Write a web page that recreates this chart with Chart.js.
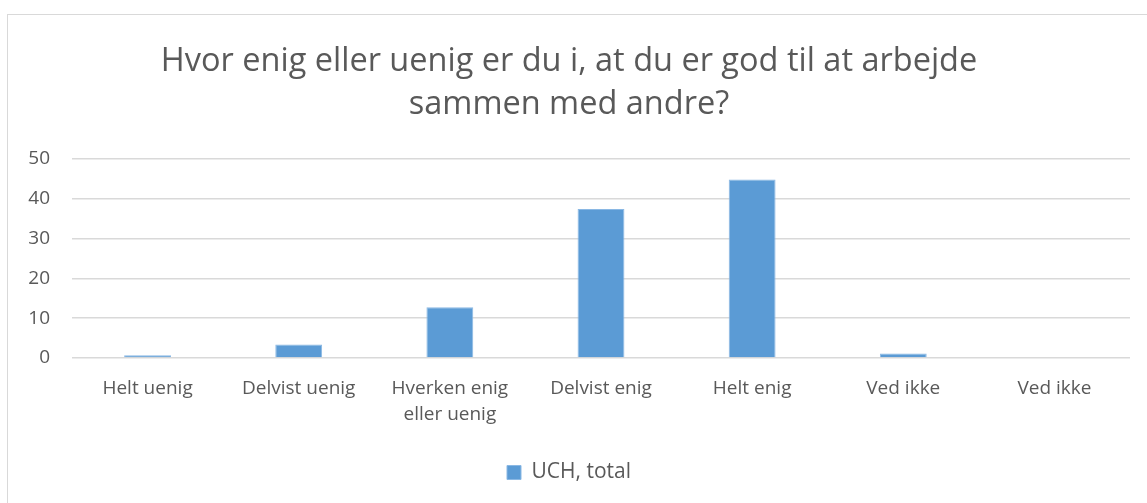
<!DOCTYPE html>
<html>
<head>
<meta charset="utf-8">
<script src="https://cdn.jsdelivr.net/npm/chart.js@4"></script>
<style>
  html, body { margin: 0; padding: 0; background: #fff; overflow: hidden; }
  #frame {
    position: absolute; left: 7px; top: 14px;
    width: 1160px; height: 510px;
    border: 1px solid #d9d9d9; box-sizing: border-box;
  }
  #wrap { position: absolute; left: 0; top: 0; width: 1158px; height: 478px; }
</style>
</head>
<body>
<div id="frame"><div id="wrap"><canvas id="chart"></canvas></div></div>
<script>
const titleLines = ['Hvor enig eller uenig er du i, at du er god til at arbejde', 'sammen med andre?'];
const categories = ['Helt uenig', 'Delvist uenig', ['Hverken enig', 'eller uenig'], 'Delvist enig', 'Helt enig', 'Ved ikke', 'Ved ikke'];
const seriesName = 'UCH, total';
const values = [0.7, 3.4, 12.7, 37.4, 44.8, 1.1, 0];
const yTicks = [0, 10, 20, 30, 40, 50];

const fontFamily = '"Open Sans", Lato, sans-serif';
const textColor = '#595959';

window.barChart = new Chart(document.getElementById('chart'), {
    type: 'bar',
    data: {
        labels: categories,
        datasets: [{
            label: seriesName,
            data: values,
            backgroundColor: '#5b9bd5',
            borderColor: '#8ab8e4',
            borderWidth: 1,
            categoryPercentage: 1,
            barPercentage: 0.31
        }]
    },
    options: {
        responsive: true,
        maintainAspectRatio: false,
        animation: false,
        layout: { padding: { left: 0, right: 36, top: 0, bottom: 0 } },
        plugins: {
            title: {
                display: true,
                text: titleLines,
                color: textColor,
                font: { family: fontFamily, size: 32.5, weight: 'normal', lineHeight: 1.32 },
                padding: { top: 25, bottom: 33 }
            },
            legend: {
                position: 'bottom',
                labels: {
                    color: textColor,
                    font: { family: fontFamily, size: 21 },
                    boxWidth: 14,
                    boxHeight: 14,
                    padding: 16
                }
            },
            tooltip: { enabled: false }
        },
        scales: {
            x: {
                grid: { display: false, drawTicks: false },
                border: { display: false },
                ticks: {
                    color: textColor,
                    font: { family: fontFamily, size: 19, lineHeight: 1.37 },
                    padding: 18,
                    maxRotation: 0,
                    autoSkip: false
                }
            },
            y: {
                min: 0,
                max: 50,
                afterBuildTicks: axis => { axis.ticks = yTicks.map(v => ({ value: v })); },
                afterFit: axis => { axis.width = 64; },
                grid: { color: '#d9d9d9', lineWidth: 1.5, drawTicks: false },
                border: { display: false },
                ticks: {
                    color: textColor,
                    font: { family: fontFamily, size: 19 },
                    padding: 22
                }
            }
        }
    }
});
</script>
</body>
</html>
